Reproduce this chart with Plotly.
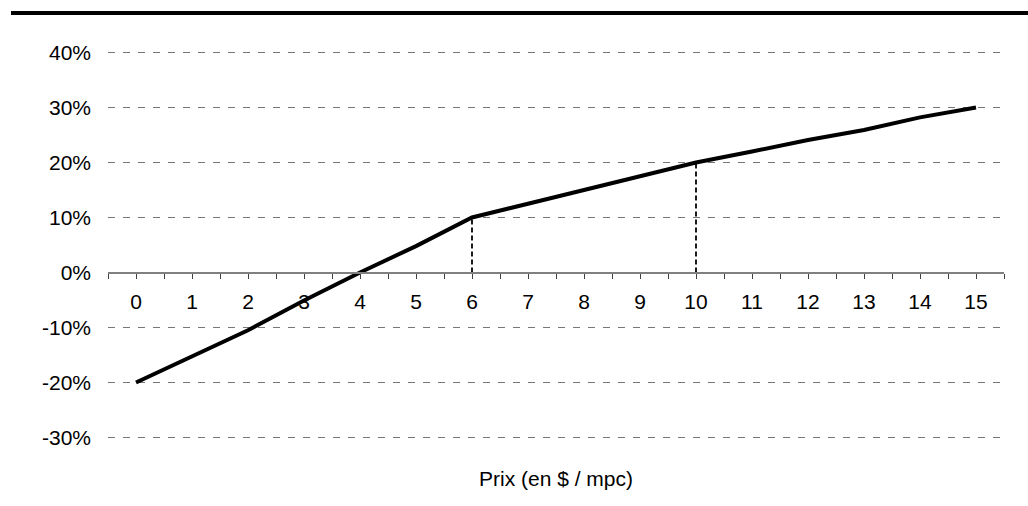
import plotly.graph_objects as go

# Price (x, $ per mpc) and associated rate (y, fraction)
prices = list(range(16))
rates = [-0.20, -0.152, -0.105, -0.051, 0.0, 0.048, 0.10, 0.125, 0.15, 0.175,
         0.20, 0.22, 0.241, 0.259, 0.282, 0.30]

# Reference drop lines at kink points
kink_prices = [6, 10]
kink_rates = [0.10, 0.20]

y_ticks = [-0.3, -0.2, -0.1, 0.0, 0.1, 0.2, 0.3, 0.4]
y_labels = ["-30%", "-20%", "-10%", "0%", "10%", "20%", "30%", "40%"]

x_title = "Prix (en $ / mpc)"

FONT = "Liberation Sans, Arial, sans-serif"
FS = 21
GRID = "#767676"

y_range = [-0.35, 0.45]
x_range = [-0.5, 15.5]

fig = go.Figure()

for px_, ry in zip(kink_prices, kink_rates):
    fig.add_trace(go.Scatter(
        x=[px_, px_], y=[0, ry], mode="lines",
        line=dict(color="black", width=1.8, dash="5px,3px"),
        hoverinfo="skip", showlegend=False,
    ))

fig.add_trace(go.Scatter(
    x=prices, y=rates, mode="lines",
    line=dict(color="black", width=4),
    showlegend=False,
))

# Tick marks at every half unit, labels at whole prices only
tick_pos = [p / 2 for p in range(-1, 32)]
tick_txt = [str(int(t)) if float(t).is_integer() else "" for t in tick_pos]

fig.update_layout(
    width=1028, height=506,
    margin=dict(l=108, r=24, t=25, b=41),
    paper_bgcolor="white", plot_bgcolor="white",
    font=dict(family=FONT, size=FS, color="black"),
    xaxis=dict(
        range=x_range, anchor="free",
        position=(0 - y_range[0]) / (y_range[1] - y_range[0]),
        tickmode="array", tickvals=tick_pos, ticktext=tick_txt,
        ticks="outside", ticklen=5, tickwidth=1, tickcolor="#404040",
        ticklabelstandoff=5,
        showline=True, linecolor="#808080", linewidth=2,
        showgrid=False, zeroline=False,
        tickfont=dict(family=FONT, size=FS, color="black"),
    ),
    yaxis=dict(
        range=y_range,
        tickmode="array", tickvals=y_ticks, ticktext=y_labels,
        showgrid=True, gridcolor=GRID, gridwidth=1, griddash="7px,8px",
        zeroline=False, showline=False, ticks="",
        ticklabelstandoff=16,
        tickfont=dict(family=FONT, size=FS, color="black"),
    ),
    shapes=[dict(
        type="line", xref="paper", yref="paper",
        x0=(11 - 108) / 896, x1=(1030 - 108) / 896,
        y0=(465 - 13) / 440, y1=(465 - 13) / 440,
        line=dict(color="black", width=4),
    )],
    annotations=[dict(
        text=x_title, xref="paper", yref="paper",
        x=0.5, y=(465 - 478) / 440, xanchor="center", yanchor="middle",
        showarrow=False, font=dict(family=FONT, size=FS, color="black"),
    )],
)

fig.write_html("out.html")
